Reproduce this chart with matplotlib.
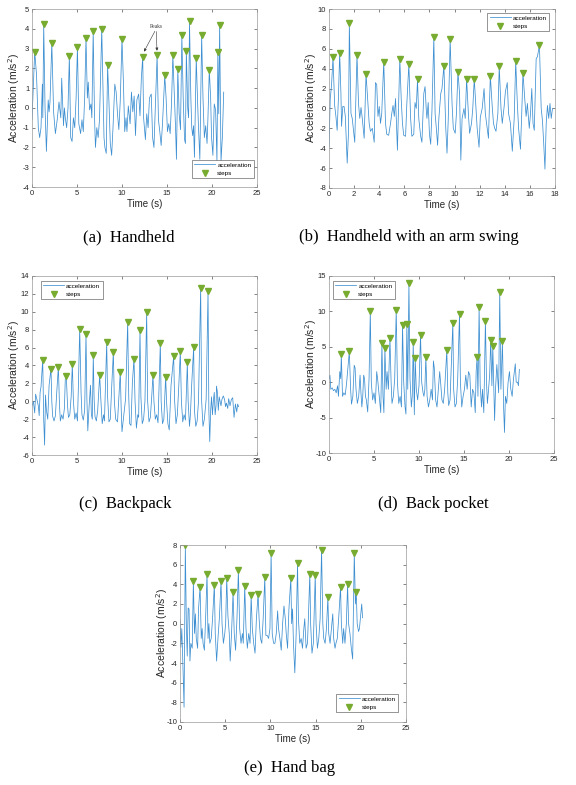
import matplotlib.pyplot as plt
import numpy as np

plt.rcParams['font.family'] = ['Liberation Sans', 'DejaVu Sans']
plt.rcParams['axes.unicode_minus'] = False

# ---- (a) Handheld ----
t_a = [0.0, 0.3, 0.5, 0.7, 0.85, 1.0, 1.15, 1.2, 1.3, 1.45, 1.6, 1.8, 1.9, 2.0, 2.2, 2.4, 2.6, 2.8, 3.0, 3.2,
       3.3, 3.5, 3.6, 3.7, 3.85, 4.0, 4.15, 4.3, 4.45, 4.6, 4.75, 4.9, 5.05, 5.2, 5.4, 5.55, 5.7, 5.85, 6.0, 6.15,
       6.25, 6.4, 6.55, 6.65, 6.8, 6.95, 7.05, 7.2, 7.35, 7.5, 7.75, 7.9, 8.0, 8.1, 8.25, 8.4, 8.55, 8.7, 8.85, 9.0,
       9.2, 9.35, 9.5, 9.65, 9.8, 10.0, 10.15, 10.3, 10.45, 10.55, 10.7, 10.9, 11.05, 11.2, 11.35, 11.5, 11.65, 11.85, 12.0, 12.15,
       12.3, 12.4, 12.6, 12.75, 12.9, 13.05, 13.25, 13.4, 13.55, 13.7, 13.9, 14.05, 14.2, 14.35, 14.5, 14.75, 14.9, 15.05, 15.2, 15.35,
       15.5, 15.65, 15.8, 15.95, 16.05, 16.2, 16.35, 16.5, 16.65, 16.8, 16.95, 17.05, 17.15, 17.3, 17.4, 17.5, 17.65, 17.75, 17.85, 17.95,
       18.05, 18.25, 18.4, 18.5, 18.65, 18.85, 19.0, 19.15, 19.3, 19.45, 19.55, 19.7, 19.85, 19.95, 20.1, 20.25, 20.4, 20.55, 20.65, 20.75,
       20.85, 21.0, 21.15, 21.3]
acc_a = [-0.6, 2.85, 1.7, -1.0, -1.5, -1.0, 1.2, -0.5, 4.24, 0.0, -2.2, 0.4, -0.2, 0.3, 3.29, -0.2, -1.3, -0.6, 0.3, -0.5,
         1.5, -0.9, 0.0, -0.5, -1.0, 0.0, 2.62, -1.5, -1.7, -0.5, -1.0, 0.5, 3.09, -0.8, -1.3, -0.6, -1.2, 0.5, 3.55, 0.5,
         1.3, -0.1, 0.2, -0.5, 3.9, -0.5, -2.0, -1.0, -1.5, -0.6, 3.99, 0.8, -1.5, -2.0, -2.3, 2.15, 0.3, -1.8, -2.4, -1.0,
         1.2, 0.8, -0.3, -1.1, 0.3, 3.48, 1.4, -1.2, -0.5, -1.2, 0.1, -0.8, 0.8, -0.2, 0.6, -1.4, 0.4, 0.7, -0.4, 1.5,
         2.58, -0.5, -1.6, -0.3, -1.0, 0.5, 0.7, -1.5, -2.0, 0.0, 2.65, -0.6, -1.2, -1.9, -0.8, 1.64, 0.5, -1.2, -0.8, -1.3,
         0.2, 2.67, 0.8, -1.0, -2.6, 1.98, -0.3, -1.1, 3.67, 0.5, -1.6, -1.8, 2.9, 0.0, -0.5, 4.38, 0.5, -1.0, -1.4, -0.9,
         -2.5, 2.53, 0.3, -1.0, -2.6, 3.67, 0.5, -1.5, -0.9, -1.8, -0.5, 1.94, 0.5, -1.5, -2.4, 0.2, -0.1, -2.7, 2.84, -0.3,
         4.2, -2.7, -1.5, 0.8]
steps_t_a = [0.3, 1.3, 2.2, 4.15, 5.05, 6.0, 6.8, 7.75, 8.4, 10.0, 12.3, 13.9, 14.75, 15.65, 16.2, 16.65, 17.15, 17.5,
             18.25, 18.85, 19.7, 20.65, 20.85]
steps_v_a = [2.85, 4.24, 3.29, 2.62, 3.09, 3.55, 3.9, 3.99, 2.15, 3.48, 2.58, 2.65, 1.64, 2.67, 1.98, 3.67, 2.9, 4.38,
             2.53, 3.67, 1.94, 2.84, 4.2]

# ---- (b) Handheld with an arm swing ----
t_b = [0.0, 0.1, 0.2, 0.32, 0.45, 0.55, 0.65, 0.75, 0.85, 0.95, 1.0, 1.1, 1.2, 1.3, 1.45, 1.55, 1.62, 1.75, 1.85, 1.95,
       2.05, 2.23, 2.35, 2.45, 2.55, 2.65, 2.8, 2.95, 3.1, 3.2, 3.3, 3.45, 3.6, 3.7, 3.8, 3.9, 4.0, 4.1, 4.2, 4.36,
       4.5, 4.6, 4.75, 4.9, 5.0, 5.1, 5.2, 5.3, 5.45, 5.64, 5.75, 5.85, 5.95, 6.1, 6.2, 6.36, 6.5, 6.6, 6.75, 6.85,
       6.95, 7.05, 7.15, 7.3, 7.4, 7.55, 7.65, 7.75, 7.8, 7.9, 8.0, 8.1, 8.2, 8.35, 8.45, 8.55, 8.65, 8.75, 8.9, 9.0,
       9.15, 9.3, 9.4, 9.5, 9.65, 9.8, 9.9, 10.05, 10.15, 10.27, 10.4, 10.5, 10.6, 10.75, 10.85, 10.96, 11.1, 11.2, 11.35, 11.45,
       11.57, 11.7, 11.8, 11.95, 12.05, 12.2, 12.35, 12.45, 12.55, 12.7, 12.85, 13.0, 13.1, 13.2, 13.3, 13.45, 13.56, 13.7, 13.8, 13.95,
       14.05, 14.2, 14.3, 14.45, 14.6, 14.75, 14.87, 15.0, 15.1, 15.25, 15.35, 15.45, 15.6, 15.7, 15.8, 15.95, 16.05, 16.15, 16.25, 16.35,
       16.5, 16.6, 16.76, 16.9, 17.0, 17.1, 17.2, 17.3, 17.4, 17.5, 17.6, 17.7, 17.75, 17.8]
acc_b = [-3.9, 1.0, 2.3, 5.15, 0.3, -0.8, -2.2, 1.0, 5.62, 1.5, -1.8, 0.2, 0.2, -0.8, -5.5, -2.5, 8.58, -0.5, -1.0, -2.2,
         -3.4, 5.42, 0.5, -1.0, 0.1, -1.0, -3.0, 3.5, 0.5, -1.5, -2.3, -2.0, -3.4, 2.6, 2.4, -0.8, 0.2, -1.5, -0.5, 4.71,
         -1.5, -2.6, -2.7, -1.5, -0.5, 0.3, -0.8, 1.0, -4.2, 5.02, 1.0, -1.5, -2.7, -2.8, 0.5, 4.48, -1.0, -2.8, -2.6, 0.6,
         0.0, 2.93, -1.0, -2.8, -3.4, 1.5, 2.2, -0.2, -1.0, 0.6, -2.6, -3.6, -0.2, 7.14, -0.5, -2.0, -3.7, -1.0, 1.5, 2.0,
         4.31, -2.0, -4.5, -1.0, 6.97, 0.5, -2.0, -2.5, -0.5, 3.7, 1.5, -5.2, -1.0, 0.0, -1.0, 2.99, -0.5, -2.5, -1.5, 0.0,
         2.99, 0.2, -2.0, -3.9, -0.9, 0.0, 2.0, -0.5, -1.5, -3.0, 3.3, 0.2, -1.5, -2.0, -2.3, -0.5, 4.24, 0.0, -1.5, 0.2,
         1.7, 2.6, -0.5, -1.5, -4.3, -1.0, 4.78, 0.5, -2.0, -4.1, -0.5, 3.57, 0.8, -0.8, 0.5, -2.0, -0.5, 2.0, -1.5, -2.2,
         5.0, 5.2, 6.36, 0.0, -1.2, -3.5, -6.1, -1.5, 0.3, -1.0, 0.5, -1.0, -0.5, 0.0]
steps_t_b = [0.32, 0.85, 1.62, 2.23, 2.95, 4.36, 5.64, 6.36, 7.05, 8.35, 9.15, 9.65, 10.27, 10.96, 11.57, 12.85, 13.56,
             14.87, 15.45, 16.76]
steps_v_b = [5.15, 5.62, 8.58, 5.42, 3.5, 4.71, 5.02, 4.48, 2.93, 7.14, 4.31, 6.97, 3.7, 2.99, 2.99, 3.3, 4.24,
             4.78, 3.57, 6.36]

# ---- (c) Backpack ----
t_c = [0.0, 0.15, 0.3, 0.4, 0.55, 0.7, 0.8, 0.9, 1.0, 1.19, 1.3, 1.4, 1.5, 1.6, 1.75, 1.9, 2.11, 2.2, 2.3, 2.45,
       2.6, 2.75, 2.93, 3.05, 3.15, 3.3, 3.45, 3.6, 3.7, 3.81, 3.95, 4.05, 4.2, 4.35, 4.48, 4.6, 4.75, 4.9, 5.05, 5.15,
       5.3, 5.45, 5.55, 5.7, 5.85, 6.0, 6.1, 6.2, 6.35, 6.5, 6.6, 6.7, 6.81, 6.9, 7.0, 7.15, 7.3, 7.52, 7.65, 7.8,
       7.95, 8.05, 8.3, 8.4, 8.55, 8.7, 8.85, 9.04, 9.15, 9.3, 9.5, 9.65, 9.81, 9.9, 10.0, 10.2, 10.4, 10.63, 10.75, 10.85,
       11.0, 11.15, 11.33, 11.45, 11.6, 11.75, 11.85, 12.0, 12.1, 12.25, 12.4, 12.55, 12.74, 12.85, 13.0, 13.15, 13.3, 13.44, 13.55, 13.7,
       13.85, 14.0, 14.26, 14.35, 14.5, 14.65, 14.85, 14.95, 15.1, 15.25, 15.45, 15.74, 15.85, 16.0, 16.15, 16.3, 16.48, 16.6, 16.75, 16.9,
       17.05, 17.26, 17.35, 17.5, 17.6, 17.75, 17.96, 18.05, 18.2, 18.35, 18.5, 18.74, 18.85, 19.0, 19.15, 19.35, 19.56, 19.65, 19.75, 19.85,
       19.95, 20.05, 20.15, 20.25, 20.35, 20.45, 20.5, 20.6, 20.7, 20.8, 20.9, 21.0, 21.1, 21.25, 21.4, 21.5, 21.6, 21.75, 21.85, 22.0,
       22.15, 22.3, 22.45, 22.6, 22.75, 22.85, 22.95]
acc_c = [-0.5, 0.0, -1.3, 0.8, 0.2, -0.5, -1.6, 1.0, 1.6, 4.62, -2.0, -4.9, 0.7, -1.0, -2.0, 1.8, 3.65, 0.0, -1.7, -2.2,
         -1.6, 1.0, 3.87, -0.3, -2.2, -1.5, -2.0, -0.8, 2.5, 2.83, -0.5, -1.8, -1.5, 0.5, 4.17, 0.0, -2.0, -1.3, -2.2, 1.5,
         8.12, 1.0, -1.5, -2.1, -1.0, 7.49, 0.2, -3.3, -0.5, 1.8, -1.5, -2.0, 5.14, 0.3, -1.7, -2.2, -1.0, 2.94, 0.2, -2.5,
         -1.5, -2.2, 6.59, 0.5, -2.3, -2.0, 1.5, 5.55, 0.0, -2.0, -2.3, 0.5, 3.31, -0.5, -3.4, -1.5, 0.3, 8.86, 0.5, -2.5,
         -2.7, 2.0, 4.77, 0.0, -3.0, -1.5, -1.8, 7.93, 0.5, -2.5, -2.0, 0.0, 9.94, 0.0, -2.3, -1.8, 0.5, 2.94, 0.0, -2.0,
         -1.5, -2.4, 6.55, 0.0, -2.5, -2.0, 2.76, 0.0, -2.5, -3.2, 1.8, 5.07, 0.0, -2.5, -1.5, 1.5, 5.62, 0.0, -2.3, -1.5,
         -2.1, 4.36, 0.0, -2.8, -1.5, 2.0, 6.03, -1.0, -2.8, -2.2, 0.0, 12.7, 0.0, -2.8, -2.0, 0.2, 12.36, -1.0, -4.5, -1.0,
         0.5, -1.5, 0.0, 1.0, -1.5, -0.5, 1.7, 1.0, -1.0, 0.5, 0.0, -0.5, 0.2, 0.6, 0.2, -0.6, -0.2, -0.8, 0.3, -0.5,
         0.2, 0.4, -1.8, -0.3, -1.2, -0.3, -0.6]
steps_t_c = [1.19, 2.11, 2.93, 3.81, 4.48, 5.3, 6.0, 6.81, 7.52, 8.3, 9.04, 9.81, 10.63, 11.33, 12.0, 12.74, 13.44,
             14.26, 14.85, 15.74, 16.48, 17.26, 17.96, 18.74, 19.56]
steps_v_c = [4.62, 3.65, 3.87, 2.83, 4.17, 8.12, 7.49, 5.14, 2.94, 6.59, 5.55, 3.31, 8.86, 4.77, 7.93, 9.94, 2.94,
             6.55, 2.76, 5.07, 5.62, 4.36, 6.03, 12.7, 12.36]

# ---- (d) Back pocket ----
t_d = [0.0, 0.1, 0.2, 0.35, 0.5, 0.65, 0.8, 0.95, 1.05, 1.2, 1.3, 1.37, 1.5, 1.65, 1.8, 1.95, 2.1, 2.26, 2.4, 2.5,
       2.65, 2.8, 2.9, 3.0, 3.15, 3.3, 3.45, 3.55, 3.65, 3.75, 3.85, 3.95, 4.05, 4.15, 4.3, 4.45, 4.59, 4.7, 4.85, 5.0,
       5.15, 5.3, 5.4, 5.55, 5.75, 5.88, 6.0, 6.1, 6.21, 6.35, 6.45, 6.6, 6.77, 6.9, 7.0, 7.15, 7.3, 7.47, 7.6, 7.75,
       7.9, 8.05, 8.17, 8.3, 8.45, 8.55, 8.65, 8.75, 8.88, 9.0, 9.15, 9.25, 9.36, 9.48, 9.58, 9.7, 9.85, 10.0, 10.17, 10.3,
       10.45, 10.55, 10.65, 10.76, 10.9, 11.05, 11.2, 11.35, 11.5, 11.6, 11.7, 11.85, 12.0, 12.15, 12.3, 12.4, 12.55, 12.7, 12.85, 13.09,
       13.2, 13.3, 13.45, 13.6, 13.76, 13.85, 14.0, 14.15, 14.3, 14.5, 14.6, 14.75, 14.9, 15.05, 15.2, 15.35, 15.5, 15.65, 15.8, 15.95,
       16.1, 16.25, 16.35, 16.46, 16.55, 16.68, 16.8, 16.95, 17.05, 17.2, 17.38, 17.5, 17.6, 17.7, 17.85, 17.97, 18.1, 18.2, 18.3, 18.4,
       18.5, 18.65, 18.75, 18.85, 18.97, 19.1, 19.27, 19.4, 19.5, 19.6, 19.75, 19.9, 20.05, 20.2, 20.35, 20.5, 20.7, 20.8, 20.95, 21.05,
       21.15]
acc_d = [0.5, 1.0, -1.0, -0.8, -1.2, -1.0, -1.5, -0.5, -2.0, 1.5, 0.5, 3.98, -2.0, -1.5, -1.8, -0.2, 2.0, 4.4, -1.0, -3.1,
         -2.0, 2.4, 2.0, -1.0, -3.0, -2.0, 1.0, -1.5, -3.5, -2.0, 1.0, 0.5, -2.0, -2.5, -4.2, 0.5, 10.07, 0.0, -2.5, -1.5,
         -3.0, 1.5, 0.5, -1.5, -4.3, 5.48, -2.0, -4.3, 4.78, -1.0, 1.5, -1.0, 6.27, 0.0, -3.0, -2.0, 0.5, 10.25, 0.0, -3.0,
         -2.0, -3.5, 8.1, 0.0, -3.5, -4.5, 8.24, -1.0, 14.04, 0.5, -3.5, -2.0, 5.71, -4.6, 3.37, -1.0, -2.5, -0.5, 6.65, 0.0,
         -1.5, -2.0, -1.0, 3.56, -2.0, -3.5, -2.5, -1.0, -2.5, 3.0, 2.0, -2.5, -3.5, -1.0, 1.5, 0.0, -2.5, -3.0, -1.0, 4.54,
         -1.5, -3.3, -2.5, 3.0, 8.43, -1.0, -3.5, -3.0, 0.5, 9.69, 0.0, -3.5, -2.0, -1.0, 1.0, -1.0, 1.5, 1.0, -3.5, -1.0,
         -1.5, -4.3, 1.5, 3.6, -2.0, 10.63, -0.5, -3.5, -1.0, -4.3, 8.71, 0.0, -3.0, -1.5, 1.0, 5.99, -0.5, 5.06, 0.0, -5.4,
         -1.0, 2.5, 0.5, -1.5, 12.78, -1.0, 5.76, -3.5, -7.1, -2.0, -3.0, 0.0, 1.5, -1.0, -2.0, 0.5, 2.6, 0.0, 0.0, -0.5,
         1.8]
steps_t_d = [1.37, 2.26, 4.59, 5.88, 6.21, 6.77, 7.47, 8.17, 8.65, 8.88, 9.36, 9.58, 10.17, 10.76, 13.09, 13.76, 14.5,
             16.46, 16.68, 17.38, 17.97, 18.2, 18.97, 19.27]
steps_v_d = [3.98, 4.4, 10.07, 5.48, 4.78, 6.27, 10.25, 8.1, 8.24, 14.04, 5.71, 3.37, 6.65, 3.56, 4.54, 8.43, 9.69,
             3.6, 10.63, 8.71, 5.99, 5.06, 12.78, 5.76]

# ---- (e) Hand bag ----
t_e = [0.0, 0.1, 0.2, 0.3, 0.45, 0.59, 0.7, 0.8, 0.9, 1.0, 1.1, 1.2, 1.35, 1.48, 1.6, 1.7, 1.8, 1.95, 2.05, 2.22,
       2.35, 2.45, 2.55, 2.7, 2.85, 2.99, 3.1, 3.2, 3.3, 3.45, 3.6, 3.8, 3.9, 4.05, 4.2, 4.35, 4.54, 4.65, 4.8, 4.95,
       5.05, 5.17, 5.3, 5.45, 5.55, 5.7, 5.87, 6.0, 6.15, 6.3, 6.46, 6.6, 6.75, 6.9, 7.0, 7.16, 7.3, 7.45, 7.6, 7.75,
       7.87, 8.0, 8.15, 8.3, 8.45, 8.64, 8.75, 8.9, 9.05, 9.2, 9.38, 9.5, 9.65, 9.8, 9.95, 10.08, 10.2, 10.35, 10.5, 10.65,
       10.8, 10.9, 11.05, 11.2, 11.35, 11.5, 11.65, 11.75, 11.9, 12.05, 12.26, 12.35, 12.45, 12.55, 12.7, 12.85, 13.0, 13.1, 13.25, 13.4,
       13.55, 13.7, 13.8, 13.95, 14.1, 14.2, 14.36, 14.45, 14.6, 14.75, 14.96, 15.05, 15.2, 15.35, 15.5, 15.66, 15.8, 15.9, 16.05, 16.2,
       16.36, 16.45, 16.6, 16.75, 16.9, 17.0, 17.15, 17.25, 17.4, 17.55, 17.76, 17.85, 18.0, 18.1, 18.25, 18.4, 18.54, 18.65, 18.8, 18.95,
       19.1, 19.28, 19.4, 19.5, 19.6, 19.75, 19.85, 20.0, 20.1, 20.2]
acc_e = [0.4, -2.4, -0.5, -3.5, -8.5, 7.96, 0.0, -3.3, 1.6, 1.5, -3.8, -2.0, -2.5, 4.31, -1.0, 1.0, -1.5, -2.5, 1.5, 3.74,
         -1.5, -0.5, -2.0, -2.7, 1.0, 5.1, -1.5, 0.0, -2.0, -1.5, 0.5, 3.96, -1.0, -3.8, -1.5, 0.5, 4.31, 0.0, -2.0, -1.0,
         0.0, 4.65, 0.8, -1.0, -3.8, -1.0, 3.19, -1.0, -2.7, 0.5, 5.45, -0.5, -2.0, -1.0, -2.0, 3.8, -0.5, -2.5, -1.0, -2.0,
         2.89, -0.5, -2.0, -3.0, 0.5, 3.06, 0.5, -1.5, -2.0, 0.5, 4.74, -1.2, -1.2, -1.5, -0.5, 7.22, -1.0, -2.0, -2.0, -1.0,
         1.3, -0.5, -1.5, -2.7, 0.0, 1.8, 0.5, -1.0, -2.5, 1.5, 4.6, 0.0, 1.5, -2.0, -5.0, -1.0, 6.13, 0.5, -2.0, -1.5,
         -2.5, -0.5, 0.5, -2.5, -2.0, 0.5, 5.1, 0.0, -3.0, -2.0, 4.96, 0.0, -2.5, -1.5, 0.5, 7.5, 0.0, -1.5, -2.0, -0.5,
         2.73, -1.0, -2.0, -0.5, 1.0, -1.5, -2.5, -2.0, -1.5, 0.5, 3.74, 0.0, -2.0, -0.5, -2.0, 0.0, 4.0, 0.0, -1.0, -2.5,
         -3.6, 7.22, 2.0, 3.19, 0.0, -0.8, -0.5, 1.0, 2.0, 0.6]
steps_t_e = [0.59, 1.48, 2.22, 2.99, 3.8, 4.54, 5.17, 5.87, 6.46, 7.16, 7.87, 8.64, 9.38, 10.08, 12.26, 13.0, 14.36,
             14.96, 15.66, 16.36, 17.76, 18.54, 19.28, 19.5]
steps_v_e = [7.96, 4.31, 3.74, 5.1, 3.96, 4.31, 4.65, 3.19, 5.45, 3.8, 2.89, 3.06, 4.74, 7.22, 4.6, 6.13, 5.1,
             4.96, 7.5, 2.73, 3.74, 4.0, 7.22, 3.19]

captions = ['(a)  Handheld', '(b)  Handheld with an arm swing', '(c)  Backpack', '(d)  Back pocket', '(e)  Hand bag']

W, H = 576, 785
fig = plt.figure(figsize=(W / 100, H / 100), dpi=100)


def make_axes(px_left, px_top, px_w, px_h):
    return fig.add_axes([px_left / W, 1 - (px_top + px_h) / H, px_w / W, px_h / H])


panels = [
    (make_axes(32, 9, 225, 178), t_a, acc_a, steps_t_a, steps_v_a, (0, 25), (-4, 5), 1, ('lower right', (0.985, 0.05))),
    (make_axes(329, 9, 226, 179), t_b, acc_b, steps_t_b, steps_v_b, (0, 18), (-8, 10), 2, ('upper right', (0.973, 0.978))),
    (make_axes(32, 276, 225, 179), t_c, acc_c, steps_t_c, steps_v_c, (0, 25), (-6, 14), 2, ('upper left', (0.04, 0.972))),
    (make_axes(329, 276, 225, 177), t_d, acc_d, steps_t_d, steps_v_d, (0, 25), (-10, 15), 5, ('upper left', (0.018, 0.972))),
    (make_axes(180, 545, 226, 177), t_e, acc_e, steps_t_e, steps_v_e, (0, 25), (-10, 8), 2, ('lower right', (0.965, 0.056))),
]

for ax, t, acc, st, sv, xl, yl, ystep, (loc, anchor) in panels:
    ax.plot(t, acc, color='#3D8FD1', lw=0.55, label='acceleration')
    ax.plot(st, sv, 'v', color='#77AC30', ms=3.8, mec='#77AC30', label='steps')
    ax.set_xlim(*xl)
    ax.set_ylim(*yl)
    xstep = 2 if xl[1] == 18 else 5
    ax.set_xticks(np.arange(xl[0], xl[1] + 0.1, xstep))
    ax.set_yticks(np.arange(yl[0], yl[1] + 0.1, ystep))
    ax.tick_params(direction='in', length=2, width=0.4, labelsize=5.5, colors='#262626',
                   top=True, right=True, pad=2)
    for s in ax.spines.values():
        s.set_color('#9a9a9a')
        s.set_linewidth(0.5)
    ax.set_xlabel('Time (s)', fontsize=7, labelpad=1.5, color='#262626')
    ax.set_ylabel('Acceleration (m/s$^2$)', fontsize=7.5, color='#262626')
    ax.yaxis.set_label_coords(-0.045, 0.5)
    leg = ax.legend(loc=loc, bbox_to_anchor=anchor, fontsize=4.6, fancybox=False, framealpha=1,
                    edgecolor='#444444', handlelength=3.3, borderpad=0.35, labelspacing=0.45,
                    handletextpad=0.3, borderaxespad=0)
    leg.get_frame().set_linewidth(0.4)

# "Peaks" annotation on (a)
ax_a = panels[0][0]
for px, py in [(12.3, 2.72), (13.9, 2.75)]:
    ax_a.annotate('', xy=(px, py), xytext=(13.8, 4.0),
                  arrowprops=dict(arrowstyle='-|>', color='#333333', lw=0.4, mutation_scale=4))
ax_a.text(13.8, 4.0, 'Peaks', fontsize=4, family='Liberation Serif', ha='center', va='bottom', color='#333333')

cap_pos = [(129, 237), (409, 237), (125, 504), (433, 504), (290, 768)]
for txt, (cx, cy) in zip(captions, cap_pos):
    fig.text(cx / W, 1 - cy / H, txt, fontsize=12, family='Liberation Serif', ha='center', va='center')

fig.savefig('out.png', dpi=100)
